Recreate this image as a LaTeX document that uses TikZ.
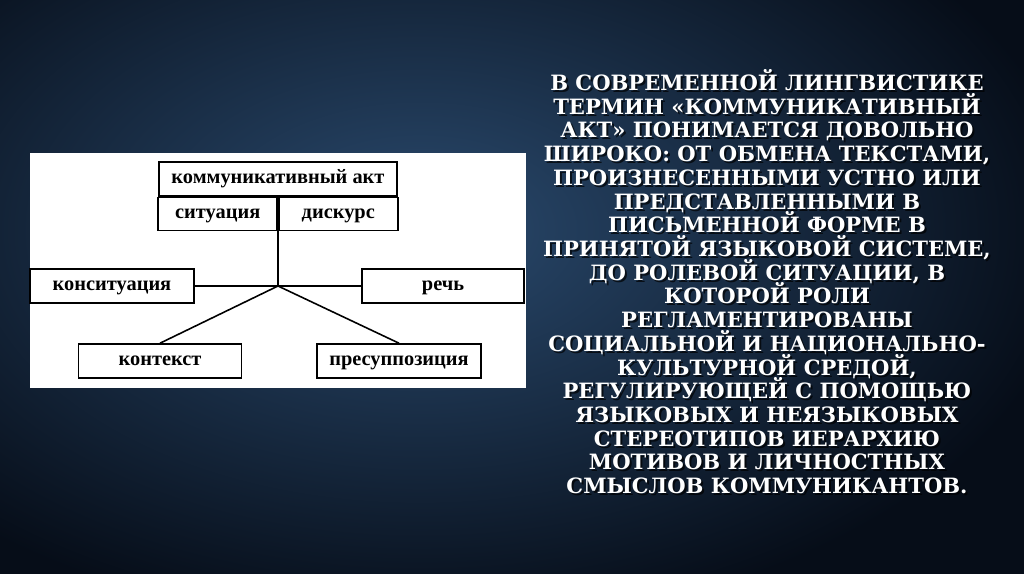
\documentclass[tikz,border=0pt]{standalone}
\usepackage{fontspec}
\setmainfont{Liberation Serif}
\newfontfamily\slidefont{DejaVu Serif}
\usetikzlibrary{positioning,calc}
\newcommand\tightlines{\lineskiplimit=-20pt\relax}
\tikzstyle{field} = [draw, line width=0.9pt, fill=white, inner sep=0pt, text height=5.5pt, text depth=0pt, font=\fontsize{11.6}{13}\selectfont\bfseries]
\tikzstyle{link} = [line width=0.9pt]
\tikzstyle{slidetext} = [align=center, inner sep=0pt, font=\slidefont\bfseries\fontsize{12}{13.5}\selectfont\tightlines]

\begin{document}
\begin{tikzpicture}[x=0.02cm, y=-0.02cm]
    \useasboundingbox (0,0) rectangle (1024,574);
    % background
    \begin{scope}
        \clip (0,0) rectangle (1024,574);
        \shade[inner color={rgb,255:red,42;green,74;blue,110}, outer color={rgb,255:red,6;green,13;blue,24}] (-240,-170) rectangle (1080,630);
    \end{scope}
    \fill[white] (30,153) rectangle (526,388);
    % diagram
    \node[field, minimum width=4.76cm, minimum height=0.68cm] (akt) at (278,179) {коммуникативный акт};
    \node[field, minimum width=2.38cm, minimum height=0.66cm, anchor=north east] (sit) at (akt.south) {ситуация};
    \node[field, minimum width=2.38cm, minimum height=0.66cm, anchor=north west] (disk) at (akt.south) {дискурс};
    \coordinate (j) at (278,286);
    \node[field, minimum width=3.28cm, minimum height=0.68cm] (konsit) at (112,286) {конситуация};
    \node[field, minimum width=3.24cm, minimum height=0.68cm] (rech) at (443,286) {речь};
    \node[field, minimum width=3.26cm, minimum height=0.68cm] (kontekst) at (160,361) {контекст};
    \node[field, minimum width=3.28cm, minimum height=0.68cm] (presup) at (399,361) {пресуппозиция};
    \draw[link] (sit.south east) -- (j);
    \draw[link] (konsit.east) -- (j) -- (rech.west);
    \draw[link] (j) -- (kontekst.north);
    \draw[link] (j) -- (presup.north);
    % text
    \node[slidetext, text=black, opacity=0.7, anchor=north] (textshadow) at (769,71) {В СОВРЕМЕННОЙ ЛИНГВИСТИКЕ\\ТЕРМИН «КОММУНИКАТИВНЫЙ\\АКТ» ПОНИМАЕТСЯ ДОВОЛЬНО\\ШИРОКО: ОТ ОБМЕНА ТЕКСТАМИ,\\ПРОИЗНЕСЕННЫМИ УСТНО ИЛИ\\ПРЕДСТАВЛЕННЫМИ В\\ПИСЬМЕННОЙ ФОРМЕ В\\ПРИНЯТОЙ ЯЗЫКОВОЙ СИСТЕМЕ,\\ДО РОЛЕВОЙ СИТУАЦИИ, В\\КОТОРОЙ РОЛИ\\РЕГЛАМЕНТИРОВАНЫ\\СОЦИАЛЬНОЙ И НАЦИОНАЛЬНО-\\КУЛЬТУРНОЙ СРЕДОЙ,\\РЕГУЛИРУЮЩЕЙ С ПОМОЩЬЮ\\ЯЗЫКОВЫХ И НЕЯЗЫКОВЫХ\\СТЕРЕОТИПОВ ИЕРАРХИЮ\\МОТИВОВ И ЛИЧНОСТНЫХ\\СМЫСЛОВ КОММУНИКАНТОВ.};
    \node[slidetext, text=white, anchor=north] (textmain) at (767,69) {В СОВРЕМЕННОЙ ЛИНГВИСТИКЕ\\ТЕРМИН «КОММУНИКАТИВНЫЙ\\АКТ» ПОНИМАЕТСЯ ДОВОЛЬНО\\ШИРОКО: ОТ ОБМЕНА ТЕКСТАМИ,\\ПРОИЗНЕСЕННЫМИ УСТНО ИЛИ\\ПРЕДСТАВЛЕННЫМИ В\\ПИСЬМЕННОЙ ФОРМЕ В\\ПРИНЯТОЙ ЯЗЫКОВОЙ СИСТЕМЕ,\\ДО РОЛЕВОЙ СИТУАЦИИ, В\\КОТОРОЙ РОЛИ\\РЕГЛАМЕНТИРОВАНЫ\\СОЦИАЛЬНОЙ И НАЦИОНАЛЬНО-\\КУЛЬТУРНОЙ СРЕДОЙ,\\РЕГУЛИРУЮЩЕЙ С ПОМОЩЬЮ\\ЯЗЫКОВЫХ И НЕЯЗЫКОВЫХ\\СТЕРЕОТИПОВ ИЕРАРХИЮ\\МОТИВОВ И ЛИЧНОСТНЫХ\\СМЫСЛОВ КОММУНИКАНТОВ.};
\end{tikzpicture}
\end{document}
